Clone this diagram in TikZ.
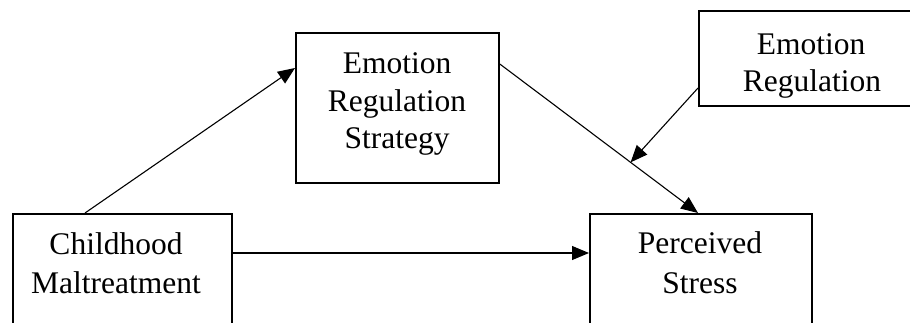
\documentclass[tikz,border=0pt]{standalone}
\usepackage{fontspec}
\setmainfont{Liberation Serif}
\usetikzlibrary{arrows.meta,calc}
\begin{document}
\begin{tikzpicture}[x=1pt,y=-1pt,
  boxnode/.style={draw=black,line width=1.8pt,rectangle,inner sep=0pt,anchor=north west},
  txt/.style={anchor=base,inner sep=0pt,font=\fontsize{31.5}{37}\selectfont},
  arr/.style={draw=black,line width=1.1pt,-{Triangle[length=17pt,width=14pt]}}]
\clip (0,0) rectangle (910,322);
\fill[white] (0,0) rectangle (910,322);
% boxes
\node[boxnode,minimum width=203pt,minimum height=150pt] (ers) at (295,32) {};
\node[boxnode,minimum width=240pt,minimum height=95pt] (er) at (698,10) {};
\node[boxnode,minimum width=219pt,minimum height=140pt] (cm) at (12,213) {};
\node[boxnode,minimum width=222pt,minimum height=140pt] (ps) at (589,213) {};
% texts
\node[txt] (ers1) at (397,73) {Emotion};
\node[txt] (ers2) at (397,111) {Regulation};
\node[txt] (ers3) at (397,148) {Strategy};
\node[txt] (er1) at (811,54) {Emotion};
\node[txt] (er2) at (812,91) {Regulation};
\node[txt] (cm1) at (116,254) {Childhood};
\node[txt] (cm2) at (116,293) {Maltreatment};
\node[txt] (ps1) at (700,253) {Perceived};
\node[txt] (ps2) at (700,293) {Stress};
% connectors
\coordinate (a1) at ($(cm.north west)+(73,0)$);
\coordinate (b1) at ($(ers.north west)+(0,36)$);
\draw[arr] (a1) -- (b1);
\coordinate (a2) at ($(cm.north east)+(0,40)$);
\coordinate (b2) at ($(ps.north west)+(0,40)$);
\draw[arr] (a2) -- (b2);
\coordinate (a3) at ($(ers.north east)+(0,32)$);
\coordinate (b3) at ($(ps.north west)+(109,0)$);
\draw[arr] (a3) -- (b3);
\coordinate (a4) at ($(er.north west)+(0,78)$);
\coordinate (m) at ($(a3)!0.66!(b3)$);
\draw[arr] (a4) -- (m);
\end{tikzpicture}
\end{document}
